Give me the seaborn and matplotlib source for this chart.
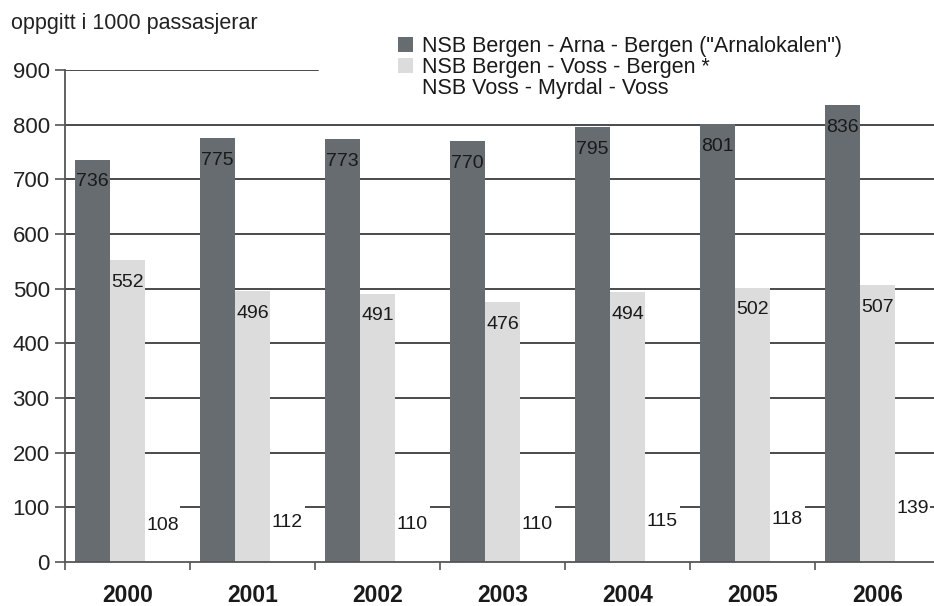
import matplotlib
matplotlib.use("Agg")
import matplotlib.pyplot as plt
from matplotlib.patches import Patch
import numpy as np
import pandas as pd
import seaborn as sns

years = ["2000", "2001", "2002", "2003", "2004", "2005", "2006"]
series_names = [
    'NSB Bergen - Arna - Bergen ("Arnalokalen")',
    "NSB Bergen - Voss - Bergen *",
    "NSB Voss - Myrdal - Voss",
]
arna = [736, 775, 773, 770, 795, 801, 836]
voss = [552, 496, 491, 476, 494, 502, 507]
myrdal = [108, 112, 110, 110, 115, 118, 139]
y_ticks = [0, 100, 200, 300, 400, 500, 600, 700, 800, 900]
y_title = "oppgitt i 1000 passasjerar"

colors = ["#676c71", "#dcdcdc", "#ffffff"]
all_vals = [arna, voss, myrdal]

df = pd.DataFrame({
    "year": years * 3,
    "value": arna + voss + myrdal,
    "series": [series_names[0]] * 7 + [series_names[1]] * 7 + [series_names[2]] * 7,
})

sns.set_style("white")
plt.rcParams["font.family"] = ["Liberation Sans", "DejaVu Sans"]

fig = plt.figure(figsize=(9.34, 6.06), dpi=100)
ax = fig.add_axes([65 / 934, 44 / 606, 875 / 934, 492 / 606])

sns.barplot(data=df, x="year", y="value", hue="series", palette=colors,
            width=0.84, gap=0, saturation=1, linewidth=0, legend=False, ax=ax,
            zorder=2)

ax.set_xlim(-0.5, 6.5)
ax.set_ylim(0, 900)

# gridlines (top one partly hidden behind legend area)
for v in y_ticks[1:]:
    xmax = 1.0 if v < 900 else (318 - 65) / 875
    ax.axhline(v, 0, xmax, color="#4a4a4a", lw=1.4, zorder=0.5)

# value labels
for container, vals in zip(ax.containers, all_vals):
    for patch, v in zip(container, vals):
        ax.annotate(str(v), (patch.get_x() + patch.get_width() / 2, patch.get_height()),
                    xytext=(0, -16), textcoords="offset points", ha="center", va="center",
                    fontsize=14, color="#1a1a1a", zorder=5)

# axes styling
for s in ["top", "right"]:
    ax.spines[s].set_visible(False)
for s in ["left", "bottom"]:
    ax.spines[s].set_color("#555555")
    ax.spines[s].set_linewidth(1.3)
    ax.spines[s].set_zorder(3)

ax.set_yticks(y_ticks)
ax.tick_params(axis="y", length=7, width=1.2, color="#555555", labelsize=16,
               pad=4, labelcolor="#222222", left=True)
ax.set_xticks(range(len(years)))
ax.set_xticklabels(years, fontsize=16.5, fontweight="bold", color="#1a1a1a")
ax.tick_params(axis="x", which="major", length=0, pad=15.5)
ax.set_xticks(np.arange(-0.5, len(years), 1), minor=True)
ax.tick_params(axis="x", which="minor", length=6, width=1.2, color="#555555", bottom=True)
ax.set_xlabel("")
ax.set_ylabel("")

fig.text(11 / 934, 1 - 23 / 606, y_title, fontsize=15.5, va="center", ha="left", color="#222222")

handles = [Patch(facecolor=c, edgecolor="none") for c in colors]
fig.legend(handles, series_names, loc="upper left",
           bbox_to_anchor=(398 / 934, 1 - 36 / 606), frameon=False, fontsize=15.5,
           handlelength=0.7, handleheight=0.7, handletextpad=0.4,
           labelspacing=0.0, borderpad=0, borderaxespad=0, labelcolor="#1a1a1a")

fig.savefig("out.png", dpi=100)
